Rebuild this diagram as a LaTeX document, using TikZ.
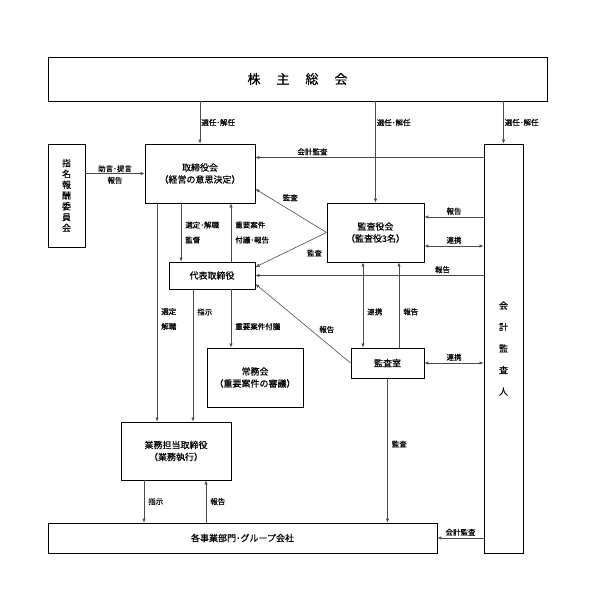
\documentclass[tikz,border=0pt]{standalone}
\usepackage{fontspec}
\setmainfont[FakeBold=0.4]{Noto Sans CJK JP}
\usetikzlibrary{arrows.meta,calc}

\tikzset{
  box/.style={draw=black, line width=0.9pt, align=center, inner sep=0pt,
    font=\fontsize{9}{12}\selectfont},
  con/.style={draw=black!70, line width=0.6pt},
  lbl/.style={font=\fontsize{7.5}{15}\selectfont, inner sep=1pt, align=left},
  >={Latex[length=4pt,width=3.5pt]}
}

\begin{document}
\begin{tikzpicture}[x=1pt,y=-1pt]
  \useasboundingbox (0,0) rectangle (594,595);

  % boxes
  \node[box, minimum width=499pt, minimum height=44pt, font=\fontsize{13}{13}\selectfont] (soukai) at (297.5,79) {株\hspace{16pt}主\hspace{16pt}総\hspace{16pt}会};
  \node[box, minimum width=110pt, minimum height=59pt] (torishimari) at (200,173.5) {取締役会\\（経営の意思決定）};
  \node[box, minimum width=37pt, minimum height=103pt, font=\fontsize{9}{10.8}\selectfont] (shimei) at (66.5,195.5) {指\\名\\報\\酬\\委\\員\\会};
  \node[box, minimum width=97pt, minimum height=59pt] (kansayaku) at (375.5,232.5) {監査役会\\（監査役3名）};
  \node[box, minimum width=39pt, minimum height=409pt, font=\fontsize{9}{21.5}\selectfont] (kaikei) at (503.5,348.5) {会\\計\\監\\査\\人};
  \node[box, minimum width=86pt, minimum height=27pt] (daihyo) at (212,275.5) {代表取締役};
  \node[box, minimum width=73pt, minimum height=30pt] (kansashitsu) at (387.5,363) {監査室};
  \node[box, minimum width=96pt, minimum height=59pt] (jomu) at (255,377.5) {常務会\\（重要案件の審議）};
  \node[box, minimum width=110pt, minimum height=58pt] (gyomu) at (176,451) {業務担当取締役\\（業務執行）};
  \node[box, minimum width=389pt, minimum height=30pt] (jigyo) at (242.5,538) {各事業部門･グループ会社};

  % from the general meeting
  \draw[con,->] (soukai.south -| torishimari.north) -- node[lbl,right,pos=0.5] {選任･解任} (torishimari.north);
  \draw[con,->] (soukai.south -| kansayaku.north) -- node[lbl,right,pos=0.21] {選任･解任} (kansayaku.north);
  \draw[con,->] (soukai.south -| kaikei.north) -- node[lbl,right,pos=0.5] {選任･解任} (kaikei.north);

  % board
  \draw[con,<-] (torishimari.west) coordinate (t0) -- node[lbl,above,pos=0.5] {助言･提言} node[lbl,below=2pt,pos=0.5] {報告} (t0 -| shimei.east);
  \draw[con,<-] ([yshift=-14pt]torishimari.north east) coordinate (t1) -- node[lbl,above=1pt,pos=0.25] {会計監査} (t1 -| kaikei.west);
  \draw[con,->] (kansayaku.west) -- node[lbl,above=8pt,pos=0.51] {監査} ([yshift=-15.5pt]torishimari.east);
  \draw[con,->] (kansayaku.west) -- node[lbl,below=10pt,pos=0.17] {監査} ([yshift=8.5pt]daihyo.east);
  \draw[con,<-] ([xshift=-31pt]daihyo.north) coordinate (d1) -- node[lbl,right=3pt,pos=0.5] {選定･解職\\監督} (d1 |- torishimari.south);
  \draw[con,->] ([xshift=19pt]daihyo.north) coordinate (d2) -- node[lbl,right=3pt,pos=0.5] {重要案件\\付議･報告} (d2 |- torishimari.south);
  \draw[con,<-] ([xshift=-19pt]gyomu.north) coordinate (g1) -- node[lbl,right=3pt,pos=0.47] {選定\\解職} (g1 |- torishimari.south);

  % audit board and accounting auditor
  \draw[con,<-] ([yshift=15.5pt]kansayaku.east) coordinate (k1) -- node[lbl,above=1pt,pos=0.5] {報告} (k1 -| kaikei.west);
  \draw[con,<->] ([yshift=-13.5pt]kansayaku.east) coordinate (k2) -- node[lbl,above=1pt,pos=0.5] {連携} (k2 -| kaikei.west);
  \draw[con,<-] (daihyo.east) -- node[lbl,above=1pt,pos=0.82] {報告} (daihyo.east -| kaikei.west);

  % representative director
  \draw[con,<-] ([xshift=17pt]gyomu.north) coordinate (g2) -- node[lbl,right=3pt,pos=0.83] {指示} (g2 |- daihyo.south);
  \draw[con,<-] ([xshift=-24pt]jomu.north) coordinate (j1) -- node[lbl,right=3pt,pos=0.36] {重要案件付議} (j1 |- daihyo.south);

  % internal audit office
  \draw[con,<->] ([xshift=-24.5pt]kansashitsu.north) coordinate (s1) -- node[lbl,right=3pt,pos=0.42] {連携} (s1 |- kansayaku.south);
  \draw[con,->] ([xshift=11.5pt]kansashitsu.north) coordinate (s2) -- node[lbl,right=3pt,pos=0.42] {報告} (s2 |- kansayaku.south);
  \draw[con,->] (kansashitsu.west) -- node[lbl,above=9pt,pos=0.25] {報告} ([yshift=-8.5pt]daihyo.east);
  \draw[con,<->] (kansashitsu.east) -- node[lbl,above=1pt,pos=0.5] {連携} (kansashitsu.east -| kaikei.west);
  \draw[con,->] (kansashitsu.south) -- node[lbl,right=3pt,pos=0.455] {監査} (kansashitsu.south |- jigyo.north);

  % business divisions
  \draw[con,<-] (jigyo.east) -- node[lbl,above=1pt,pos=0.5] {会計監査} (jigyo.east -| kaikei.west);
  \draw[con,->] ([xshift=-32pt]gyomu.south) coordinate (g3) -- node[lbl,right=3pt,pos=0.5] {指示} (g3 |- jigyo.north);
  \draw[con,<-] ([xshift=30pt]gyomu.south) coordinate (g4) -- node[lbl,right=3pt,pos=0.5] {報告} (g4 |- jigyo.north);
\end{tikzpicture}
\end{document}
